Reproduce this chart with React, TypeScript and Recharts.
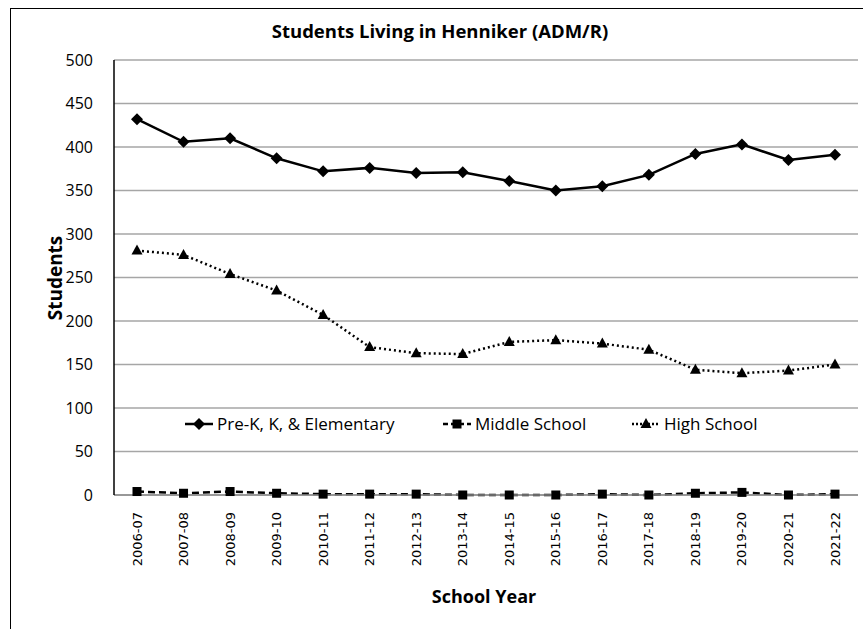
import React from 'react'
import { CartesianGrid, Line, LineChart, XAxis, YAxis } from 'recharts'

const years = [
  '2006-07', '2007-08', '2008-09', '2009-10', '2010-11', '2011-12', '2012-13', '2013-14',
  '2014-15', '2015-16', '2016-17', '2017-18', '2018-19', '2019-20', '2020-21', '2021-22',
]
const elementary = [432, 406, 410, 387, 372, 376, 370, 371, 361, 350, 355, 368, 392, 403, 385, 391]
const middle = [4, 2, 4, 2, 1, 1, 1, 0, 0, 0, 1, 0, 2, 3, 0, 1]
const high = [281, 276, 254, 235, 207, 170, 163, 162, 176, 178, 174, 167, 144, 140, 143, 150]
const yTicks = [0, 50, 100, 150, 200, 250, 300, 350, 400, 450, 500]

const data = years.map((year, i) => ({
  year,
  elementary: elementary[i],
  middle: middle[i],
  high: high[i],
}))

const font = '"Open Sans", "Noto Sans", sans-serif'

const Diamond = ({ cx, cy }: any) => (
  <polygon points={`${cx},${cy - 6} ${cx + 6},${cy} ${cx},${cy + 6} ${cx - 6},${cy}`} fill="#000" />
)
const Square = ({ cx, cy }: any) => <rect x={cx - 4.5} y={cy - 4.5} width={9} height={9} fill="#000" />
const Triangle = ({ cx, cy }: any) => (
  <polygon points={`${cx},${cy - 6} ${cx + 5.5},${cy + 4} ${cx - 5.5},${cy + 4}`} fill="#000" />
)

const YearTick = ({ x, y, payload }: any) => (
  <text
    x={x}
    y={y + 9}
    transform={`rotate(-90, ${x}, ${y + 9})`}
    textAnchor="end"
    dy="0.35em"
    fontFamily='"DejaVu Sans", sans-serif'
    fontSize={13}
    fill="#000"
  >
    {payload.value}
  </text>
)

const legendItems = [
  { label: 'Pre-K, K, & Elementary', dash: undefined, Mark: Diamond, left: 184 },
  { label: 'Middle School', dash: '5 3', Mark: Square, left: 442 },
  { label: 'High School', dash: '2 2', Mark: Triangle, left: 631 },
]

const ChartLegend = () => (
  <>
    {legendItems.map(({ label, dash, Mark, left }) => (
      <div
        key={label}
        style={{
          position: 'absolute',
          left,
          top: 412,
          display: 'flex',
          alignItems: 'center',
          fontFamily: font,
          fontSize: 17,
          color: '#000',
          whiteSpace: 'nowrap',
        }}
      >
        <svg width={30} height={14}>
          <line x1={1} y1={7} x2={29} y2={7} stroke="#000" strokeWidth={2.5} strokeDasharray={dash} />
          <Mark cx={15} cy={7} />
        </svg>
        <span style={{ marginLeft: 3 }}>{label}</span>
      </div>
    ))}
  </>
)

export default function App() {
  return (
    <div style={{ position: 'absolute', left: 0, top: 0, width: 863, height: 629, background: '#fff', overflow: 'hidden' }}>
      <div style={{ position: 'absolute', left: 10, top: 8, width: 900, height: 700, borderLeft: '1.5px solid #000', borderTop: '1.5px solid #000' }} />
      <div style={{ position: 'absolute', left: 0, width: 880, top: 18, textAlign: 'center', fontFamily: font, fontWeight: 700, fontSize: 18.5 }}>
        Students Living in Henniker (ADM/R)
      </div>
      <div style={{ position: 'absolute', left: 0, width: 968, top: 584, textAlign: 'center', fontFamily: font, fontWeight: 700, fontSize: 18 }}>
        School Year
      </div>
      <div
        style={{
          position: 'absolute',
          left: 55,
          top: 278,
          transform: 'translate(-50%, -50%) rotate(-90deg)',
          fontFamily: font,
          fontWeight: 700,
          fontSize: 19,
          whiteSpace: 'nowrap',
        }}
      >
        Students
      </div>
      <div style={{ position: 'absolute', left: 0, top: 0 }}>
        <LineChart width={863} height={629} data={data} margin={{ top: 60, right: 5, bottom: 24, left: 54 }}>
          <CartesianGrid horizontal vertical={false} stroke="#a6a6a6" strokeWidth={1.5} />
          <XAxis
            dataKey="year"
            height={110}
            tick={<YearTick />}
            tickLine={false}
            interval={0}
            padding={{ left: 23, right: 23 }}
            axisLine={{ stroke: '#8c8c8c', strokeWidth: 1.5 }}
          />
          <YAxis
            domain={[0, 500]}
            ticks={yTicks}
            width={60}
            tickLine={false}
            axisLine={{ stroke: '#000', strokeWidth: 1.5 }}
            tick={{ fontFamily: font, fontSize: 16, fill: '#000' }}
            tickMargin={15}
          />
          <YAxis yAxisId="frame" orientation="right" width={0} tick={false} tickLine={false} axisLine={{ stroke: '#8c8c8c', strokeWidth: 2 }} />
          <Line dataKey="elementary" stroke="#000" strokeWidth={2.5} dot={<Diamond />} activeDot={false} isAnimationActive={false} />
          <Line dataKey="middle" stroke="#000" strokeWidth={2.5} strokeDasharray="7 4" dot={<Square />} activeDot={false} isAnimationActive={false} />
          <Line dataKey="high" stroke="#000" strokeWidth={2.5} strokeDasharray="2 3" dot={<Triangle />} activeDot={false} isAnimationActive={false} />
        </LineChart>
      </div>
      <ChartLegend />
    </div>
  )
}
